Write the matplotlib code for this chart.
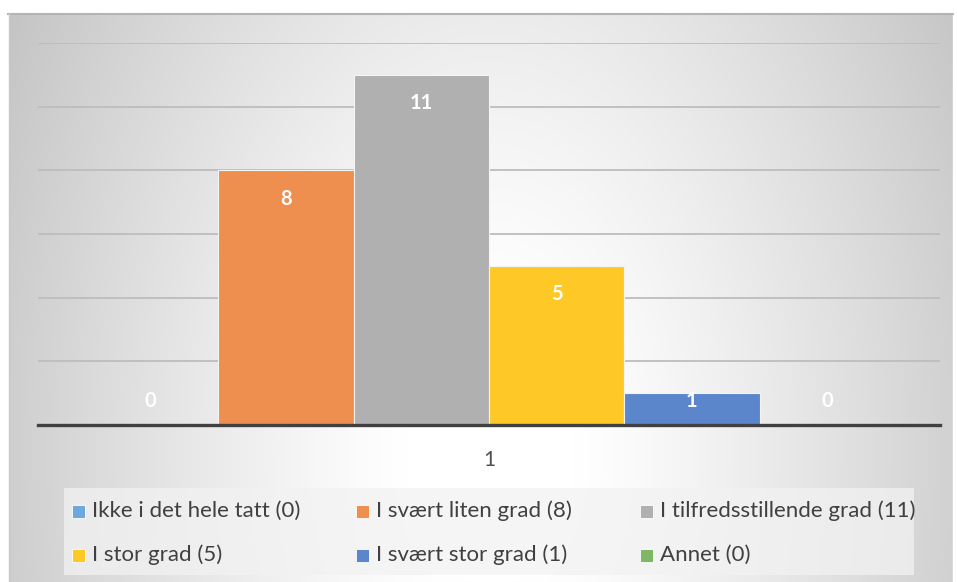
import numpy as np
import matplotlib.pyplot as plt
from matplotlib.patches import Rectangle

# data
kategori = ['1']
serier = ['Ikke i det hele tatt (0)', 'I svært liten grad (8)', 'I tilfredsstillende grad (11)',
          'I stor grad (5)', 'I svært stor grad (1)', 'Annet (0)']
verdier = [0, 8, 11, 5, 1, 0]
farger = ['#6FA8DC', '#EE8F50', '#B0B0B0', '#FEC927', '#5C86CB', '#7FB865']

plt.rcParams['font.family'] = ['Lato', 'DejaVu Sans']

W, H = 957, 582
fig = plt.figure(figsize=(W / 100, H / 100), dpi=100)

# bakgrunn med radial gradient (chart area)
bg = fig.add_axes([0, 0, 1, 1], zorder=0)
bg.set_xlim(0, W)
bg.set_ylim(H, 0)
bg.axis('off')
yy, xx = np.mgrid[0:H, 0:W]
d = np.sqrt(((xx - 490) / 560.0) ** 2 + ((yy - 450) / 900.0) ** 2)
d = np.clip((d - 0.15) / 0.85, 0, 1)
grå = 255 - 60 * d ** 1.2
img = np.dstack([grå, grå, grå]) / 255.0
bg.imshow(img, extent=[0, W, H, 0], aspect='auto', interpolation='bilinear')
# hvitt utenfor chart-området
bg.add_patch(Rectangle((0, 0), W, 13, color='white', zorder=2))
bg.add_patch(Rectangle((0, 0), 8, H, color='white', zorder=2))
bg.add_patch(Rectangle((953, 0), 10, H, color='white', zorder=2))
bg.plot([8, 953], [13.5, 13.5], color='#b4b4b4', lw=1.5, zorder=3)
bg.plot([8.5, 8.5], [13, H], color='#c8c8c8', lw=1, zorder=3)

# legend-boks
bg.add_patch(Rectangle((64, 488), 850, 87, facecolor='#f2f2f2', alpha=0.75, edgecolor='none', zorder=3))
for i, (navn, f) in enumerate(zip(serier, farger)):
    kol = i % 3
    rad = i // 3
    x0 = 72 + kol * 284
    y0 = 511 + rad * 44
    bg.add_patch(Rectangle((x0, y0 - 6.5), 13, 13, facecolor=f, edgecolor='white', lw=0.6, zorder=4))
    bg.text(x0 + 20, y0, navn, fontsize=16, color='#404040', va='center', ha='left', zorder=4)

# plot
ax = fig.add_axes([38 / W, 1 - 425 / H, 902 / W, 382 / H], zorder=1)
ax.patch.set_alpha(0)
bredde = 0.15
x = np.arange(len(kategori))
for i, (v, f) in enumerate(zip(verdier, farger)):
    xp = x + (i - 2.5) * bredde
    ax.bar(xp, v, width=bredde, color=f, edgecolor='#f4f4f4', linewidth=0.8, zorder=3)
    ax.text(xp[0], max(v - 0.9, 0.76), str(v), color='white', fontsize=14.5,
            fontweight='bold', ha='center', va='center', zorder=4)

ax.set_xlim(-0.5, 0.5)
ax.set_ylim(0, 12)
ax.set_yticks(np.arange(2, 13, 2))
ax.yaxis.grid(True, color='#bdbdbd', lw=1.3, zorder=1)
ax.set_yticklabels([])
ax.tick_params(axis='y', length=0)
ax.set_xticks(x)
ax.set_xticklabels(kategori, fontsize=15, color='#505050')
ax.tick_params(axis='x', length=0, pad=18)
for s in ['top', 'right', 'left']:
    ax.spines[s].set_visible(False)
ax.spines['bottom'].set_color('#404040')
ax.spines['bottom'].set_linewidth(2.4)
ax.spines['bottom'].set_zorder(5)

fig.savefig('out.png', dpi=100)
